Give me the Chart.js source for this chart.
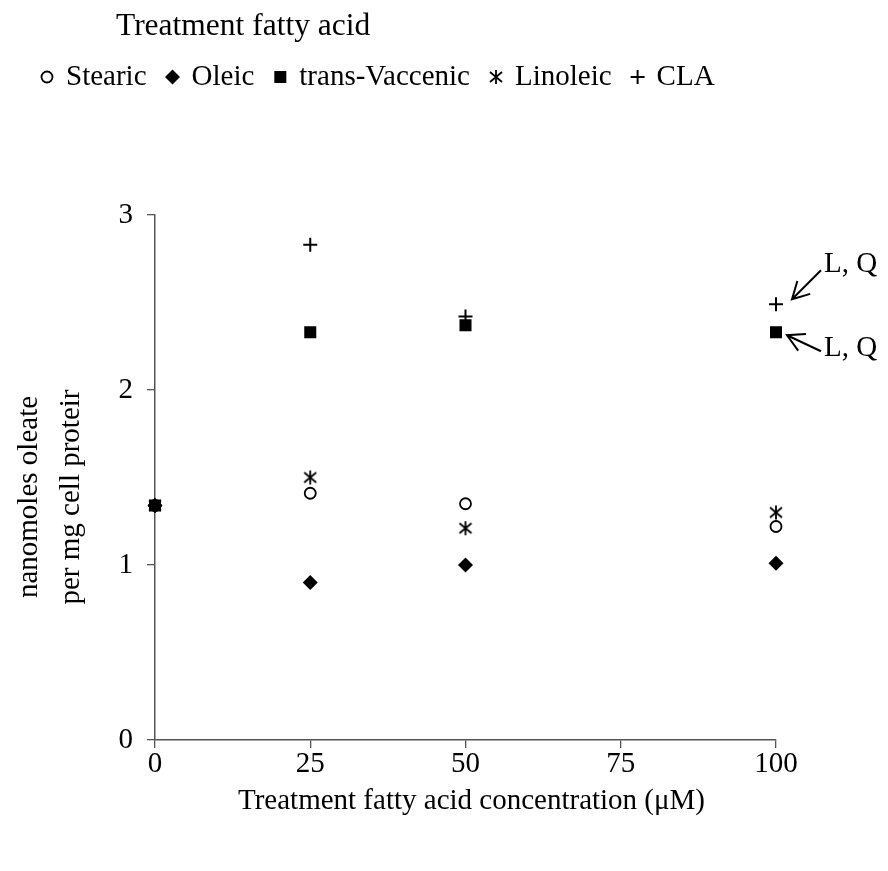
<!DOCTYPE html>
<html>
<head>
<meta charset="utf-8">
<script src="https://cdn.jsdelivr.net/npm/chart.js@4/dist/chart.umd.min.js"></script>
<style>
  body { margin: 0; background: #fff; }
</style>
</head>
<body>
<canvas id="grafica" width="888" height="871"></canvas>
<script>
// concentraciones (uM) y valores
var concentraciones = [0, 25, 50, 100];
var stearic = [1.34, 1.41, 1.35, 1.22];
var oleic = [1.34, 0.90, 1.00, 1.01];
var transVaccenic = [1.34, 2.33, 2.37, 2.33];
var linoleic = [1.34, 1.50, 1.21, 1.30];
var cla = [1.34, 2.83, 2.42, 2.49];
var xTicks = [0, 25, 50, 75, 100];
var yTicks = [0, 1, 2, 3];

var fuente = '"Liberation Serif", "Times New Roman", serif';
var gris = '#555';

// asterisco de tres trazos para Linoleic
function crearAsterisco() {
    var c = document.createElement('canvas');
    c.width = 16; c.height = 16;
    var g = c.getContext('2d');
    g.strokeStyle = '#000';
    g.lineWidth = 1.8;
    g.beginPath();
    g.moveTo(8, 1); g.lineTo(8, 15);
    g.moveTo(2, 3); g.lineTo(14, 13);
    g.moveTo(2, 13); g.lineTo(14, 3);
    g.stroke();
    return c;
}
var asterisco = crearAsterisco();

function puntos(valores) {
    return concentraciones.map(function (x, i) { return { x: x, y: valores[i] }; });
}

var series = [
    { label: 'Stearic', data: puntos(stearic), order: 4, pointStyle: 'circle', pointRadius: 5.5, pointBorderWidth: 1.8, pointBackgroundColor: '#fff' },
    { label: 'Oleic', data: puntos(oleic), order: 3, pointStyle: 'rectRot', pointRadius: 7.5, pointBorderWidth: 0, pointBackgroundColor: '#000' },
    { label: 'trans-Vaccenic', data: puntos(transVaccenic), order: 0, pointStyle: 'rect', pointRadius: 8.5, pointBorderWidth: 0, pointBackgroundColor: '#000' },
    { label: 'Linoleic', data: puntos(linoleic), order: 1, pointStyle: asterisco, pointRadius: 8, pointBorderWidth: 0, pointBackgroundColor: '#000' },
    { label: 'CLA', data: puntos(cla), order: 2, pointStyle: 'cross', pointRadius: 7, pointBorderWidth: 2, pointBackgroundColor: '#000' }
];
series.forEach(function (s) {
    s.pointBorderColor = '#000';
    s.showLine = false;
    s.clip = false;
    s.pointHoverRadius = s.pointRadius;
});

// textos, leyenda y flechas dibujados a mano
var textos = {
    id: 'textos',
    afterDraw: function (chart) {
        var ctx = chart.ctx;
        var area = chart.chartArea;
        ctx.save();
        ctx.fillStyle = '#000';
        ctx.strokeStyle = '#000';
        ctx.textBaseline = 'middle';
        ctx.textAlign = 'left';

        ctx.font = '31.5px ' + fuente;
        ctx.fillText('Treatment fatty acid', 116, 27);

        // leyenda
        ctx.font = '29px ' + fuente;
        var x = 47, y = 77;
        chart.data.datasets.forEach(function (ds) {
            ctx.fillStyle = ds.pointBackgroundColor;
            ctx.strokeStyle = '#000';
            ctx.lineWidth = ds.pointBorderWidth;
            Chart.helpers.drawPoint(ctx, {
                pointStyle: ds.pointStyle,
                radius: ds.pointRadius,
                borderWidth: ds.pointBorderWidth,
                rotation: 0
            }, x, y);
            ctx.fillStyle = '#000';
            var w = ctx.measureText(ds.label).width;
            ctx.fillText(ds.label, x + 19, y);
            x = x + 19 + w + 26;
        });

        // titulo eje x
        ctx.textAlign = 'center';
        ctx.fillText('Treatment fatty acid concentration (\u03bcM)', (area.left + area.right) / 2 + 6, 801);

        // titulo eje y
        ctx.save();
        ctx.translate(0, 497);
        ctx.rotate(-Math.PI / 2);
        ctx.fillText('nanomoles oleate', 0, 29);
        ctx.fillText('per mg cell proteir', 0, 71);
        ctx.restore();

        // flechas L, Q
        var xs = chart.scales.x, ys = chart.scales.y;
        var ultimo = concentraciones.length - 1;
        var px = xs.getPixelForValue(concentraciones[ultimo]);
        var pyCla = ys.getPixelForValue(cla[ultimo]);
        var pyTv = ys.getPixelForValue(transVaccenic[ultimo]);
        flecha(ctx, px + 45, pyCla - 34, px + 16, pyCla - 5);
        flecha(ctx, px + 45, pyTv + 19, px + 11, pyTv + 3);
        ctx.textAlign = 'left';
        ctx.fillText('L, Q', px + 48, pyCla - 40);
        ctx.fillText('L, Q', px + 48, pyTv + 16);
        ctx.restore();
    }
};

function flecha(ctx, x1, y1, x2, y2) {
    var ang = Math.atan2(y2 - y1, x2 - x1);
    var l = 19, a = 0.5;
    ctx.lineWidth = 2;
    ctx.beginPath();
    ctx.moveTo(x1, y1);
    ctx.lineTo(x2, y2);
    ctx.moveTo(x2 - l * Math.cos(ang - a), y2 - l * Math.sin(ang - a));
    ctx.lineTo(x2, y2);
    ctx.lineTo(x2 - l * Math.cos(ang + a), y2 - l * Math.sin(ang + a));
    ctx.stroke();
}

var ctx = document.getElementById('grafica').getContext('2d');
var grafica = new Chart(ctx, {
    type: 'scatter',
    data: { datasets: series },
    options: {
        responsive: false,
        animation: false,
        devicePixelRatio: 1,
        layout: { padding: { top: 215, right: 112, bottom: 0, left: 0 } },
        plugins: {
            legend: { display: false },
            tooltip: { enabled: false }
        },
        scales: {
            x: {
                type: 'linear',
                min: 0,
                max: 100,
                afterFit: function (s) { s.height = 131; },
                afterBuildTicks: function (s) { s.ticks = xTicks.map(function (v) { return { value: v }; }); },
                grid: { drawOnChartArea: false, drawTicks: true, tickLength: 8, color: gris, lineWidth: 1.3 },
                border: { display: true, color: gris, width: 1.5 },
                ticks: { color: '#000', padding: -1, maxRotation: 0, font: { family: fuente, size: 29 } }
            },
            y: {
                type: 'linear',
                min: 0,
                max: 3,
                afterFit: function (s) { s.width = 155; },
                afterBuildTicks: function (s) { s.ticks = yTicks.map(function (v) { return { value: v }; }); },
                grid: { drawOnChartArea: false, drawTicks: true, tickLength: 8, color: gris, lineWidth: 1.3 },
                border: { display: true, color: gris, width: 1.5 },
                ticks: { color: '#000', padding: 14, font: { family: fuente, size: 29 } }
            }
        }
    },
    plugins: [textos]
});
</script>
</body>
</html>
